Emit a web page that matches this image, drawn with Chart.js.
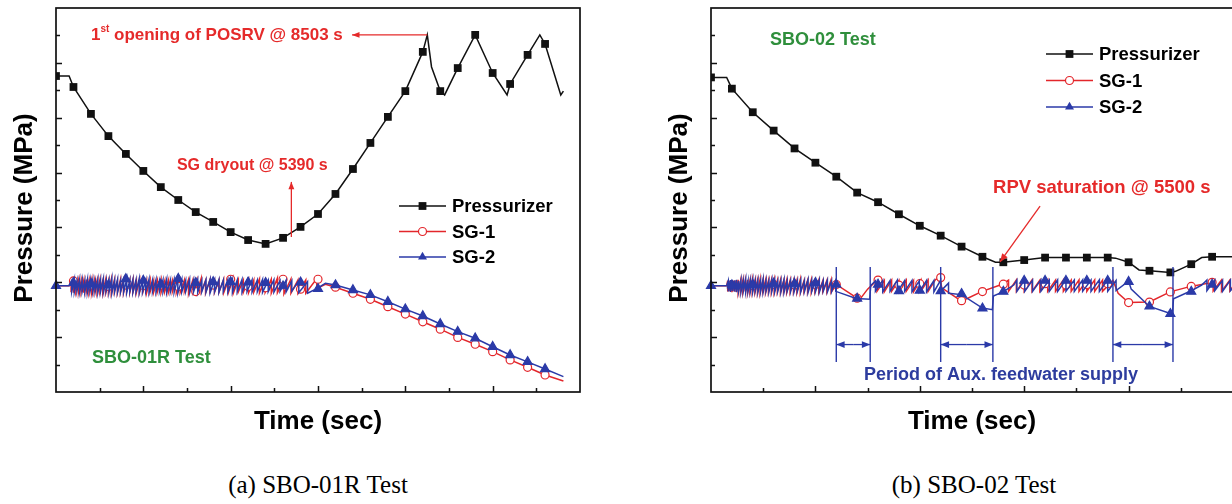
<!DOCTYPE html>
<html>
<head>
<meta charset="utf-8">
<script src="https://cdn.jsdelivr.net/npm/chart.js@4.4.1/dist/chart.umd.min.js"></script>
<style>
html, body { margin: 0; padding: 0; background: #fff; overflow: hidden; width: 1232px; height: 504px; }
#wrap { position: relative; width: 1232px; height: 504px; overflow: hidden; }
canvas { position: absolute; top: 0; }
#c1 { left: 0; }
#c2 { left: 640px; }
.cap { position: absolute; top: 471px; font-family: "Liberation Serif", "Times New Roman", serif; font-size: 25px; color: #000; transform: translateX(-50%); white-space: nowrap; }
</style>
</head>
<body>
<div id="wrap">
<canvas id="c1" width="600" height="440"></canvas>
<canvas id="c2" width="600" height="440"></canvas>
<div class="cap" style="left:318px">(a) SBO-01R Test</div>
<div class="cap" style="left:974px">(b) SBO-02 Test</div>
</div>
<script>
// ---------- (a) SBO-01R : time [s], pressure [MPa] ----------
const przA = [[0,15.52],[300,15.52],[400,15.12],[800,14.14],[1200,13.33],[1600,12.68],[2000,12.06],[2400,11.47],
  [2800,11.0],[3200,10.56],[3600,10.2],[4000,9.83],[4400,9.54],[4800,9.4],[5200,9.62],[5600,10.02],[6000,10.49],
  [6400,11.22],[6800,12.13],[7200,13.08],[7600,14.03],[8000,14.97],[8400,16.4],[8503,17.02],[8600,15.85],
  [8800,14.97],[8900,14.83],[9200,15.81],[9600,17.02],[10000,15.63],[10330,14.83],[10400,15.23],[10800,16.29],
  [11080,17.02],[11200,16.69],[11560,14.83],[11620,14.97]];

const sg2LiftA = [360,420,480,540,600,660,720,780,840,900,960,1020,1085,1150,1215,1280,1345,1410,1480,1550,
  1620,1690,1760,1830,1905,1980,2055,2130,2210,2290,2370,2450,2535,2620,2705,2790,2880,2970,3060,3150,
  3245,3340,3435,3530,3630,3730,3830,3935,4040,4150,4260,4375,4490,4610,4730,4860,4990,5130,5270];
const sg2HiA = [8.07,8.09,8.05,8.10,8.08,8.06,8.11,8.07,8.09,8.05,8.10,8.08,8.12,8.07,8.09,8.14,8.08,8.10,8.06,8.09,
  8.11,8.07,8.10,8.08,8.13,8.09,8.07,8.11,8.08,8.10,8.07,8.09,8.12,8.08,8.10,8.15,8.09,8.07,8.11,8.08,
  8.10,8.07,8.09,8.11,8.08,8.10,8.07,8.09,8.11,8.08,8.10,8.07,8.09,8.08,8.10,8.07,8.09,8.06,8.08];
const sg2LoA = [7.66,7.64,7.68,7.63,7.66,7.65,7.62,7.67,7.64,7.66,7.63,7.65,7.62,7.67,7.64,7.61,7.66,7.63,7.65,7.64,
  7.62,7.66,7.63,7.65,7.61,7.64,7.66,7.62,7.65,7.63,7.66,7.64,7.61,7.65,7.63,7.60,7.64,7.66,7.62,7.65,
  7.63,7.66,7.64,7.62,7.65,7.63,7.66,7.64,7.62,7.65,7.63,7.66,7.64,7.65,7.63,7.66,7.64,7.67,7.65];
const sg2TailA = [[5400,8.05],[5400,7.68],[5560,8.04],[5560,7.62],[5760,8.02],[5760,7.6],[5960,7.76],[6170,7.96],
  [6400,7.9],[6800,7.72],[7200,7.54],[7600,7.29],[8000,7.02],[8400,6.77],[8800,6.48],[9200,6.2],[9600,5.96],
  [10000,5.65],[10400,5.35],[10800,5.1],[11200,4.84],[11620,4.56]];
const sg2MarkA = [[0,7.87],[400,7.98],[800,7.95],[1200,7.9],[1600,8.12],[2000,8.06],[2400,7.92],[2800,8.13],
  [3200,7.98],[3600,8.01],[4000,8.01],[4400,8.0],[4800,7.98],[5200,7.86],[5600,8.0],[6000,7.76],[6400,7.9],
  [6800,7.72],[7200,7.54],[7600,7.29],[8000,7.02],[8400,6.77],[8800,6.48],[9200,6.2],[9600,5.96],[10000,5.65],
  [10400,5.35],[10800,5.1],[11200,4.84]];

const sg1LiftA = [345,400,455,515,575,635,695,755,815,875,940,1005,1070,1135,1200,1265,1335,1405,1475,1545,
  1615,1690,1765,1840,1915,1995,2075,2155,2235,2320,2405,2490,2575,2665,2755,2845,2940,3035,3130,3225,
  3325,3425,3525,3630,3735,3840,3950,4060,4175,4290,4410,4530,4660,4790,4930,5070,5220,5380];
const sg1HiA = [8.04,8.09,8.06,8.08,8.05,8.07,8.10,8.06,8.08,8.05,8.07,8.09,8.06,8.08,8.05,8.10,8.07,8.06,8.09,8.07,
  8.05,8.08,8.10,8.06,8.07,8.09,8.06,8.08,8.05,8.07,8.10,8.06,8.08,8.07,8.09,8.06,8.08,8.10,8.07,8.09,
  8.14,8.07,8.09,8.06,8.08,8.10,8.07,8.15,8.09,8.07,8.10,8.08,8.12,8.09,8.11,8.15,8.10,8.12];
const sg1LoA = [7.64,7.62,7.66,7.63,7.65,7.62,7.66,7.64,7.61,7.65,7.63,7.66,7.62,7.64,7.65,7.61,7.66,7.63,7.64,7.62,
  7.66,7.63,7.65,7.62,7.64,7.66,7.61,7.65,7.63,7.64,7.62,7.66,7.63,7.65,7.61,7.64,7.66,7.58,7.65,7.63,
  7.64,7.62,7.66,7.63,7.65,7.62,7.64,7.60,7.65,7.63,7.62,7.64,7.61,7.63,7.60,7.62,7.58,7.60];
const sg1TailA = [[5540,8.08],[5540,7.6],[5720,8.08],[5720,7.6],[5960,8.11],[5980,7.78],[6170,7.93],[6400,7.82],
  [6800,7.6],[7200,7.38],[7600,7.11],[8000,6.84],[8400,6.56],[8800,6.29],[9200,5.99],[9600,5.74],[10000,5.47],
  [10400,5.17],[10800,4.9],[11200,4.62],[11620,4.4]];
const sg1MarkA = [[400,8.05],[800,7.9],[1200,7.85],[1600,7.9],[2000,7.88],[2400,7.9],[2800,7.85],[3200,7.66],
  [3600,7.9],[4000,8.11],[4400,7.85],[4800,7.8],[5200,8.11],[5600,7.75],[6000,8.11],[6400,7.82],[6800,7.6],
  [7200,7.38],[7600,7.11],[8000,6.84],[8400,6.56],[8800,6.29],[9200,5.99],[9600,5.74],[10000,5.47],[10400,5.17],
  [10800,4.9],[11200,4.62]];

// ---------- (b) SBO-02 ----------
const przB = [[0,15.47],[300,15.47],[400,15.06],[800,14.2],[1200,13.53],[1600,12.88],[2000,12.36],[2400,11.85],
  [2800,11.27],[3200,10.92],[3600,10.48],[4000,10.06],[4400,9.7],[4800,9.3],[5200,8.93],[5450,8.73],[5600,8.73],
  [6000,8.81],[6400,8.9],[6800,8.9],[7200,8.9],[7600,8.9],[7750,8.88],[8000,8.73],[8200,8.45],[8400,8.42],
  [8800,8.36],[8900,8.4],[9200,8.66],[9400,8.9],[9600,8.93],[9990,8.93]];

const sg2LiftB = [330,370,410,450,490,530,575,620,665,710,755,800,850,900,950,1000,1055,1110,1165,1220,
  1280,1340,1400,1460,1525,1590,1655,1720,1790,1860,1930,2000,2075,2150,2230,2310,2390];
const sg2HiB = [8.05,8.08,8.04,8.07,8.09,8.05,8.08,8.06,8.10,8.05,8.07,8.09,8.06,8.08,8.05,8.11,8.07,8.06,8.09,8.07,
  8.05,8.08,8.10,8.06,8.07,8.09,8.05,8.08,8.06,8.10,8.07,8.05,8.09,8.06,8.08,8.05,8.07];
const sg2LoB = [7.67,7.65,7.68,7.66,7.64,7.67,7.65,7.68,7.64,7.66,7.67,7.65,7.68,7.64,7.66,7.63,7.67,7.65,7.66,7.64,
  7.67,7.65,7.63,7.67,7.66,7.64,7.67,7.65,7.66,7.63,7.67,7.65,7.64,7.67,7.65,7.66,7.67];
const sg2TailB = [[2780,7.41],[3040,7.38],[3060,7.88],[3150,8.05],[3150,7.67],[3290,8.07],[3290,7.65],[3430,8.06],
  [3430,7.67],[3570,8.08],[3570,7.65],[3710,8.06],[3710,7.67],[3850,8.07],[3850,7.65],[3990,8.05],[3990,7.65],
  [4130,8.07],[4130,7.65],[4270,8.06],[4270,7.65],[4400,8.08],[4400,7.68],[4550,7.97],[4550,7.6],[4800,7.55],
  [5200,7.06],[5390,7.0],[5410,7.5],[5600,7.66],[5800,7.9],[5860,8.08],[5860,7.67],[6010,8.09],[6010,7.67],
  [6160,8.08],[6160,7.67],[6320,8.09],[6320,7.67],[6480,8.08],[6480,7.67],[6640,8.09],[6640,7.67],[6800,8.09],
  [6800,7.67],[6960,8.08],[6960,7.67],[7120,8.09],[7120,7.67],[7280,8.08],[7280,7.67],[7440,8.09],[7440,7.67],
  [7600,8.09],[7600,7.67],[7760,8.07],[7760,7.7],[8000,8.04],[8050,7.75],[8400,7.12],[8800,6.86],[8840,6.85],
  [8860,7.4],[9200,7.69],[9400,7.9],[9500,8.08],[9500,7.69],[9650,8.08],[9650,7.69],[9800,8.07],[9800,7.67],
  [9950,8.08],[9950,7.69],[10000,7.8]];
const sg2MarkB = [[0,7.87],[400,7.9],[800,7.92],[1200,7.96],[1600,7.95],[2000,7.98],[2400,7.92],[2800,7.41],
  [3200,7.92],[3600,7.68],[4000,7.7],[4400,7.68],[4800,7.58],[5200,7.05],[5600,7.66],[6000,8.06],[6400,8.06],
  [6800,8.06],[7200,8.06],[7600,8.06],[8000,8.02],[8400,7.12],[8800,6.85],[9200,7.66],[9600,7.92]];

const sg1LiftB = [320,360,400,440,480,520,565,610,655,700,745,790,840,890,940,990,1045,1100,1155,1210,
  1270,1330,1390,1450,1515,1580,1645,1710,1780,1850,1920,1990,2065,2140,2220,2300];
const sg1HiB = [8.06,8.04,8.08,8.05,8.07,8.09,8.05,8.07,8.06,8.09,8.05,8.08,8.06,8.07,8.10,8.05,8.08,8.06,8.07,8.09,
  8.06,8.08,8.05,8.09,8.07,8.06,8.08,8.10,8.05,8.07,8.09,8.06,8.08,8.05,8.07,8.09];
const sg1LoB = [7.66,7.68,7.64,7.67,7.65,7.63,7.67,7.65,7.66,7.63,7.67,7.64,7.66,7.65,7.62,7.67,7.64,7.66,7.65,7.63,
  7.66,7.64,7.67,7.63,7.65,7.66,7.64,7.62,7.67,7.65,7.63,7.66,7.64,7.67,7.65,7.63];
const sg1TailB = [[2400,7.92],[2800,7.42],[2880,7.45],[3000,7.75],[3180,8.08],[3180,7.67],[3320,8.07],[3320,7.65],
  [3460,8.08],[3460,7.67],[3600,8.07],[3600,7.65],[3740,8.08],[3740,7.67],[3880,8.07],[3880,7.65],[4020,8.09],
  [4020,7.67],[4160,8.08],[4160,7.67],[4300,8.1],[4390,8.17],[4420,7.8],[4786,7.33],[4900,7.4],[5183,7.66],
  [5580,7.93],[5700,8.08],[5700,7.67],[5850,8.09],[5850,7.67],[6000,8.08],[6000,7.67],[6150,8.09],[6150,7.67],
  [6300,8.08],[6300,7.67],[6450,8.09],[6450,7.67],[6600,8.08],[6600,7.67],[6750,8.09],[6750,7.67],[6900,8.08],
  [6900,7.67],[7050,8.09],[7050,7.67],[7200,8.08],[7200,7.67],[7350,8.09],[7350,7.67],[7500,8.08],[7500,7.67],
  [7700,8.07],[7800,7.6],[8000,7.26],[8400,7.28],[8794,7.65],[9190,7.85],[9620,8.0],[9620,7.68],[9780,8.08],
  [9780,7.67],[9940,8.08],[9940,7.69],[10000,7.85]];
const sg1MarkB = [[400,7.9],[800,7.88],[1200,7.92],[1600,7.9],[2000,7.92],[2400,7.92],[2800,7.42],[3200,8.08],
  [3600,7.9],[4000,7.95],[4400,8.17],[4800,7.33],[5200,7.66],[5600,7.93],[6000,7.9],[6400,7.95],[6800,7.9],
  [7200,7.92],[7600,7.95],[8000,7.26],[8400,7.28],[8800,7.65],[9200,7.85],[9600,8.0]];

// aux feedwater periods in SBO-02 [start, end] s
const auxPeriods = [[2400,3050],[4400,5400],[7700,8850]];

const FONT = '"Liberation Sans", Arial, Helvetica, sans-serif';
const BLUE = '#2b3aa8', RED = '#e3262b', BLACK = '#111';

function pts(arr) { return arr.map(p => ({x: p[0], y: p[1]})); }

function sawLine(head, lifts, his, los, tail) {
  const out = pts(head);
  lifts.forEach((t, i) => { out.push({x: t, y: his[i]}); out.push({x: t, y: los[i]}); });
  return out.concat(pts(tail));
}

function arrow(ctx, x1, y1, x2, y2, color, head) {
  ctx.strokeStyle = color; ctx.fillStyle = color; ctx.lineWidth = 1.3;
  ctx.beginPath(); ctx.moveTo(x1, y1); ctx.lineTo(x2, y2); ctx.stroke();
  const a = Math.atan2(y2 - y1, x2 - x1);
  ctx.beginPath(); ctx.moveTo(x2, y2);
  ctx.lineTo(x2 - head * Math.cos(a - 0.38), y2 - head * Math.sin(a - 0.38));
  ctx.lineTo(x2 - head * Math.cos(a + 0.38), y2 - head * Math.sin(a + 0.38));
  ctx.closePath(); ctx.fill();
}

function marker(ctx, style, x, y, color) {
  ctx.lineWidth = 1.2; ctx.strokeStyle = color;
  ctx.beginPath();
  if (style === 'rect') { ctx.fillStyle = color; ctx.rect(x - 3.9, y - 3.9, 7.8, 7.8); ctx.fill(); }
  else if (style === 'circle') { ctx.fillStyle = '#fff'; ctx.arc(x, y, 4, 0, Math.PI * 2); ctx.fill(); ctx.stroke(); }
  else { ctx.fillStyle = color; ctx.moveTo(x, y - 5.2); ctx.lineTo(x + 4.5, y + 2.6); ctx.lineTo(x - 4.5, y + 2.6); ctx.closePath(); ctx.fill(); }
}

const legendItems = [['Pressurizer', BLACK, 'rect'], ['SG-1', RED, 'circle'], ['SG-2', BLUE, 'triangle']];

const framePlugin = {
  id: 'frame',
  afterDraw(chart, args, o) {
    const ctx = chart.ctx, a = chart.chartArea, xs = chart.scales.x, ys = chart.scales.y;
    ctx.save();
    // frame
    ctx.strokeStyle = BLACK; ctx.lineWidth = 1.7;
    ctx.strokeRect(a.left, a.top, a.right - a.left, a.bottom - a.top);
    // inward ticks
    ctx.lineWidth = 1.5; ctx.beginPath();
    for (let v = xs.min + 1000; v < xs.max; v += 1000) {
      const px = Math.round(xs.getPixelForValue(v)) + 0.5;
      const len = v % 2000 === 0 ? 6 : 4;
      ctx.moveTo(px, a.bottom); ctx.lineTo(px, a.bottom - len);
    }
    for (let v = ys.min + 1; v < ys.max; v += 1) {
      const py = Math.round(ys.getPixelForValue(v)) + 0.5;
      const len = v % 2 === 0 ? 6 : 4;
      ctx.moveTo(a.left, py); ctx.lineTo(a.left + len, py);
    }
    ctx.stroke();
    // axis titles
    ctx.fillStyle = '#000'; ctx.font = 'bold 26px ' + FONT;
    ctx.textAlign = 'center'; ctx.textBaseline = 'middle';
    ctx.fillText('Time (sec)', (a.left + a.right) / 2, a.bottom + 30);
    ctx.save();
    ctx.translate(a.left - 31, (a.top + a.bottom) / 2 + 8);
    ctx.rotate(-Math.PI / 2);
    ctx.fillText('Pressure (MPa)', 0, 0);
    ctx.restore();
    // legend
    ctx.font = 'bold 18.5px ' + FONT; ctx.textAlign = 'left';
    legendItems.forEach((it, i) => {
      const y = a.top + o.legend.y + i * o.legend.dy;
      const x1 = a.left + o.legend.x, x2 = x1 + 47;
      ctx.strokeStyle = it[1]; ctx.lineWidth = 1.5;
      ctx.beginPath(); ctx.moveTo(x1, y); ctx.lineTo(x2, y); ctx.stroke();
      marker(ctx, it[2], (x1 + x2) / 2, y, it[1]);
      ctx.fillStyle = '#000'; ctx.fillText(it[0], x2 + 6, y + 1);
    });
    // notes
    o.notes(ctx, xs, ys);
    ctx.restore();
  }
};

function makeChart(id, xmax, pad, series, legend, notes) {
  const datasets = [];
  series.forEach((s, i) => {
    datasets.push({
      label: s.label, data: s.line, borderColor: s.color, borderWidth: 1.5, order: 10 + i * 2,
      pointRadius: s.rectOnLine ? (c => (c.raw && c.raw.x % 400 === 0 ? 5.5 : 0)) : 0,
      pointStyle: 'rect', pointBackgroundColor: s.color, pointBorderWidth: 0
    });
    if (s.marks) {
      datasets.push({
        label: s.label + ' marks', data: s.marks, showLine: false, order: 9 + i * 2, clip: false,
        pointStyle: s.style, pointRadius: s.style === 'circle' ? 4 : 5.2, pointBorderWidth: 1.2,
        pointBorderColor: s.color, pointBackgroundColor: s.style === 'circle' ? '#fff' : s.color
      });
    }
  });
  return new Chart(document.getElementById(id), {
    type: 'line',
    data: { datasets },
    options: {
      responsive: false, animation: false, events: [],
      layout: { padding: pad },
      elements: { line: { tension: 0 } },
      plugins: { legend: { display: false }, tooltip: { enabled: false }, frame: { legend, notes } },
      scales: {
        x: { type: 'linear', min: 0, max: xmax, display: false },
        y: { type: 'linear', min: 4, max: 18, display: false }
      }
    },
    plugins: [framePlugin]
  });
}

Chart.defaults.font.family = FONT;

makeChart('c1', 12000, { left: 56, right: 20, top: 8, bottom: 48 }, [
  { label: 'SG-2', line: sawLine([[0,7.87],[300,7.87]], sg2LiftA, sg2HiA, sg2LoA, sg2TailA), marks: pts(sg2MarkA), color: BLUE, style: 'triangle' },
  { label: 'SG-1', line: sawLine([[0,7.87],[300,7.87]], sg1LiftA, sg1HiA, sg1LoA, sg1TailA), marks: pts(sg1MarkA), color: RED, style: 'circle' },
  { label: 'Pressurizer', line: pts(przA), color: BLACK, rectOnLine: true }
], { x: 343, y: 198, dy: 25.5 }, (ctx, xs, ys) => {
  const X = v => xs.getPixelForValue(v), Y = v => ys.getPixelForValue(v);
  ctx.fillStyle = '#e52a2a'; ctx.textBaseline = 'middle'; ctx.textAlign = 'left';
  let x = X(800), y = Y(17.02);
  ctx.font = 'bold 17px ' + FONT; ctx.fillText('1', x, y); x += ctx.measureText('1').width;
  ctx.font = 'bold 10px ' + FONT; ctx.fillText('st', x, y - 6); x += ctx.measureText('st').width;
  ctx.font = 'bold 17px ' + FONT; ctx.fillText(' opening of POSRV @ 8503 s', x, y);
  arrow(ctx, X(8503), Y(17.02), X(6780), Y(17.02), '#e52a2a', 8);
  ctx.fillStyle = '#e52a2a'; ctx.font = 'bold 16px ' + FONT; ctx.textAlign = 'center';
  ctx.fillText('SG dryout @ 5390 s', X(4496), Y(12.24));
  arrow(ctx, X(5390), Y(9.65), X(5390), Y(11.66), '#e52a2a', 8);
  ctx.fillStyle = '#2f8f3c'; ctx.font = 'bold 18px ' + FONT; ctx.textAlign = 'left';
  ctx.fillText('SBO-01R Test', X(826), Y(5.24));
});

makeChart('c2', 10000, { left: 71, right: 7, top: 8, bottom: 48 }, [
  { label: 'SG-2', line: sawLine([[0,7.87],[300,7.87]], sg2LiftB, sg2HiB, sg2LoB, sg2TailB), marks: pts(sg2MarkB), color: BLUE, style: 'triangle' },
  { label: 'SG-1', line: sawLine([[0,7.87],[300,7.87]], sg1LiftB, sg1HiB, sg1LoB, sg1TailB), marks: pts(sg1MarkB), color: RED, style: 'circle' },
  { label: 'Pressurizer', line: pts(przB), color: BLACK, rectOnLine: true }
], { x: 335, y: 46, dy: 26.5 }, (ctx, xs, ys) => {
  const X = v => xs.getPixelForValue(v), Y = v => ys.getPixelForValue(v);
  ctx.textBaseline = 'middle';
  ctx.fillStyle = '#2f8f3c'; ctx.font = 'bold 18px ' + FONT; ctx.textAlign = 'left';
  ctx.fillText('SBO-02 Test', X(1130), Y(16.83));
  ctx.fillStyle = '#e52a2a'; ctx.font = 'bold 18.5px ' + FONT;
  ctx.fillText('RPV saturation @ 5500 s', X(5403), Y(11.44));
  arrow(ctx, X(6304), Y(10.78), X(5537), Y(8.74), '#e52a2a', 9);
  // aux feedwater periods
  auxPeriods.forEach(p => {
    ctx.strokeStyle = BLUE; ctx.lineWidth = 1.4;
    ctx.beginPath();
    p.forEach(t => { const px = X(t); ctx.moveTo(px, Y(8.56)); ctx.lineTo(px, Y(5.09)); });
    ctx.stroke();
    arrow(ctx, (X(p[0]) + X(p[1])) / 2, Y(5.73), X(p[0]), Y(5.73), BLUE, 9);
    arrow(ctx, (X(p[0]) + X(p[1])) / 2, Y(5.73), X(p[1]), Y(5.73), BLUE, 9);
  });
  ctx.fillStyle = '#2d3c9e'; ctx.font = 'bold 18px ' + FONT; ctx.textAlign = 'center';
  ctx.fillText('Period of Aux. feedwater supply', X(5556), Y(4.62));
});
</script>
</body>
</html>
